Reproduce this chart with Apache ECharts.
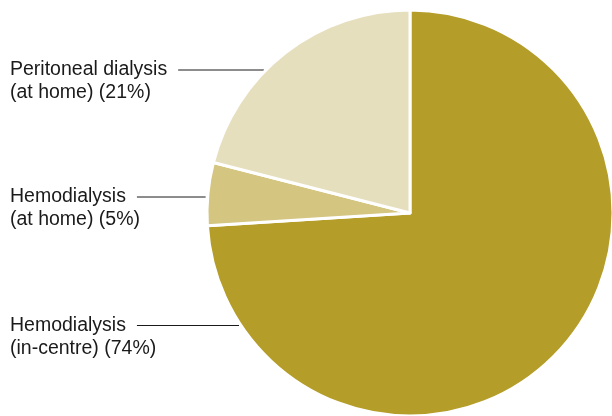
<!DOCTYPE html>
<html><head><meta charset="utf-8">
<script src="https://cdn.jsdelivr.net/npm/echarts@6/dist/echarts.min.js"></script>
<style>html,body{margin:0;padding:0;background:#fff}#c{width:612px;height:416px}</style>
</head><body><div id="c"></div>
<script>
const categories = ['Hemodialysis\n(in-centre)', 'Hemodialysis\n(at home)', 'Peritoneal dialysis\n(at home)'];
const values = [74, 5, 21];
const colors = ['#b49d29', '#d4c580', '#e6dfbd'];
const labelLineY = [325.5, 197, 70];
const CX = 410, CY = 213, R = 203;
const FONT_SIZE = 19.5, LINE_H = 23, FONT = '"Liberation Sans", Arial, sans-serif';
const ctx = document.createElement('canvas').getContext('2d');
ctx.font = FONT_SIZE + 'px ' + FONT;

const chart = echarts.init(document.getElementById('c'), null, {renderer: 'canvas'});
chart.setOption({
  animation: false,
  series: [{
    type: 'pie',
    center: [CX, CY],
    radius: R,
    startAngle: 90,
    clockwise: true,
    avoidLabelOverlap: false,
    itemStyle: {borderColor: '#fff', borderWidth: 3},
    label: {
      show: true,
      position: 'outside',
      formatter: '{b} ({c}%)',
      color: '#1a1a1a',
      fontSize: FONT_SIZE,
      lineHeight: LINE_H,
      fontFamily: FONT
    },
    labelLine: {show: true, lineStyle: {color: '#1a1a1a', width: 1}},
    emphasis: {disabled: true},
    labelLayout: function (p) {
      const i = p.dataIndex;
      const y = labelLineY[i];
      const first = categories[i].split('\n')[0];
      const w = ctx.measureText(first).width;
      const ex = CX - Math.sqrt(R * R - (y - CY) * (y - CY)) - 2;
      return {
        x: 10, y: y - LINE_H / 2,
        align: 'left', verticalAlign: 'top',
        labelLinePoints: [[ex, y], [ex, y], [10 + w + 11, y]]
      };
    },
    data: categories.map((n, i) => ({name: n, value: values[i], itemStyle: {color: colors[i]}}))
  }]
});
</script></body></html>
